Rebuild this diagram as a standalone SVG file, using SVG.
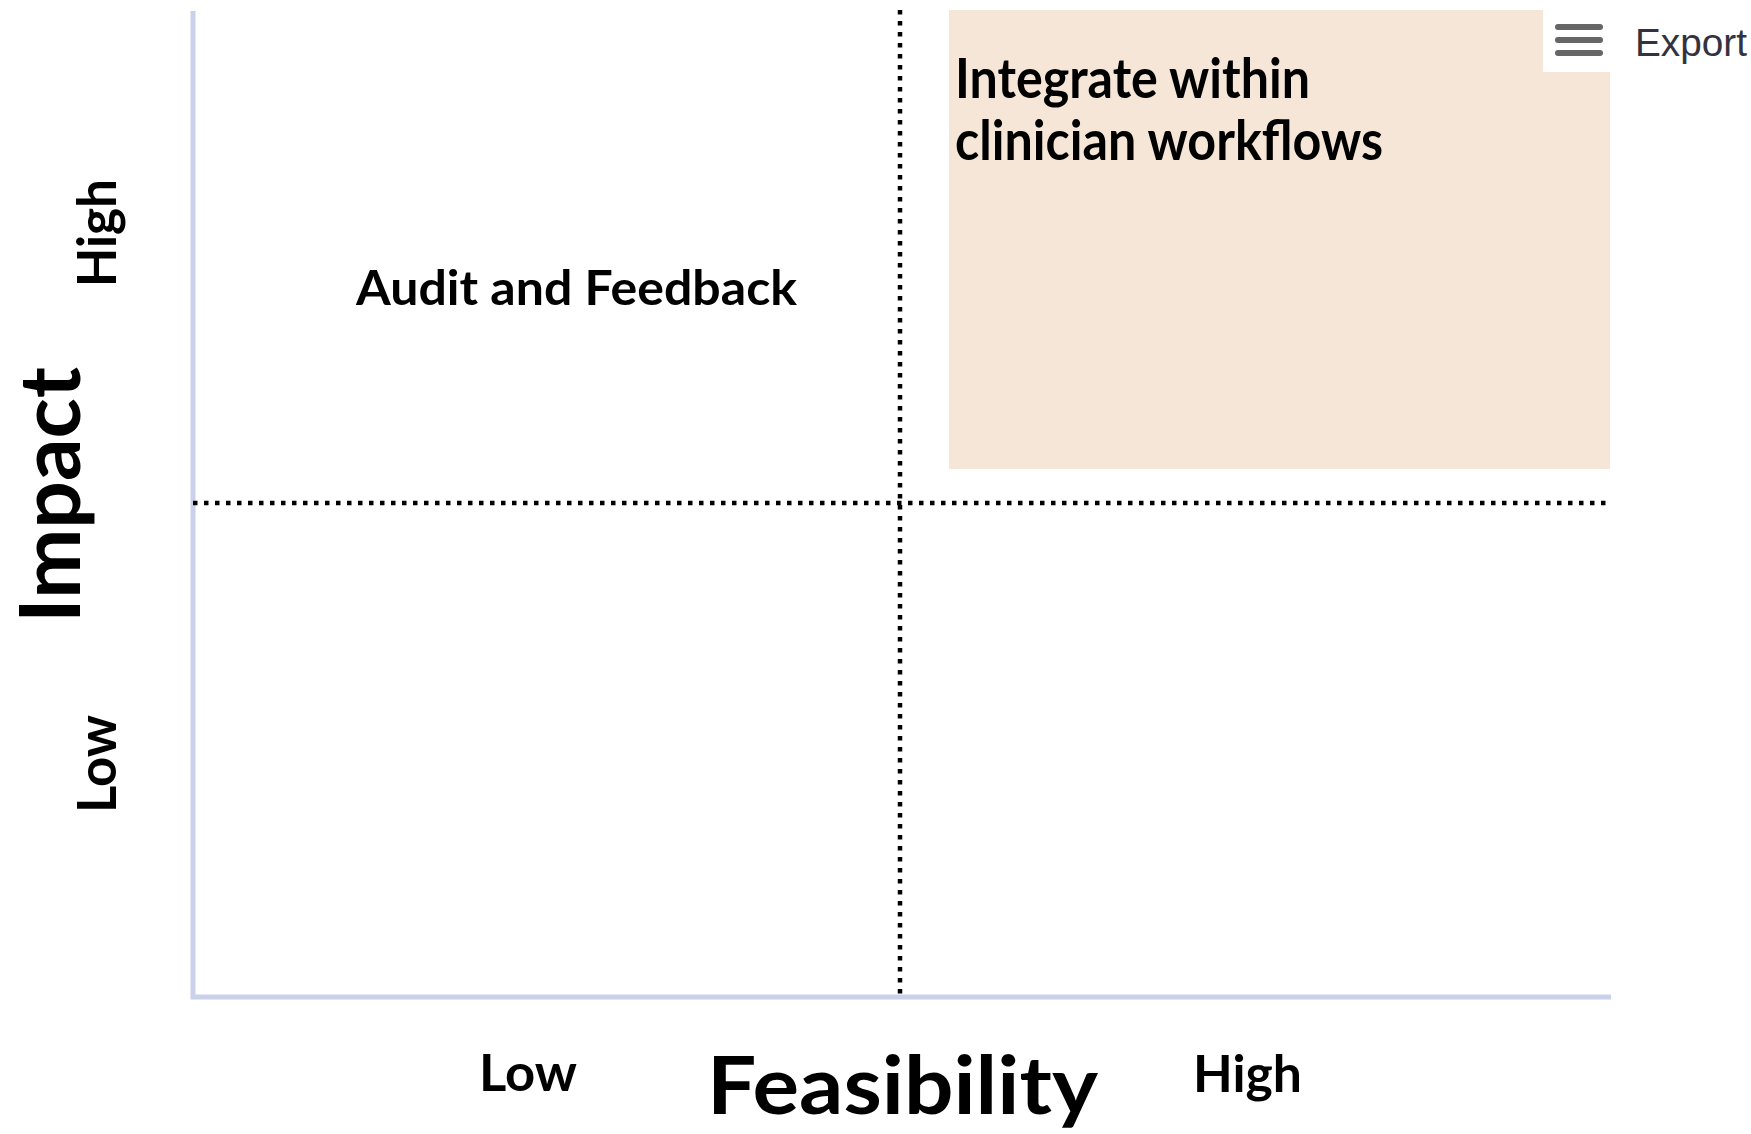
<svg xmlns="http://www.w3.org/2000/svg" width="1751" height="1134" viewBox="0 0 1751 1134">
<style>
.lbl{font-family:Lato,"Open Sans","Liberation Sans",sans-serif;font-weight:bold;fill:#000}
.axis{stroke:#cbd1ea;stroke-width:5;fill:none}
.dot{stroke:#000;stroke-width:4.5;stroke-dasharray:4.5 6.5;fill:none}
.menu{stroke:#666;stroke-width:6;stroke-linecap:round}
</style>
<rect width="1751" height="1134" fill="#fff"/>
<g id="quadrant-high-high">
<rect x="949" y="10" width="661" height="459" fill="#f5e6d7"/>
<text class="lbl" font-size="55" x="955" y="98" textLength="355" lengthAdjust="spacingAndGlyphs">Integrate within</text>
<text class="lbl" font-size="55" x="955" y="160" textLength="428" lengthAdjust="spacingAndGlyphs">clinician workflows</text>
</g>
<g id="connectors">
<path class="axis" d="M193 11 V997 H1611"/>
<line class="dot" x1="900" y1="10" x2="900" y2="995"/>
<line class="dot" x1="193" y1="503" x2="1611" y2="503"/>
</g>
<g id="audit-feedback">
<text class="lbl" font-size="48" x="356" y="305" textLength="441" lengthAdjust="spacingAndGlyphs">Audit and Feedback</text>
</g>
<g id="y-axis-labels">
<text class="lbl" font-size="84" transform="translate(80 623) rotate(-90)" textLength="256" lengthAdjust="spacingAndGlyphs">Impact</text>
<text class="lbl" font-size="54" transform="translate(116 287) rotate(-90)" textLength="108" lengthAdjust="spacingAndGlyphs">High</text>
<text class="lbl" font-size="54" transform="translate(116 813) rotate(-90)" textLength="98" lengthAdjust="spacingAndGlyphs">Low</text>
</g>
<g id="x-axis-labels">
<text class="lbl" font-size="52" x="479" y="1091" textLength="98" lengthAdjust="spacingAndGlyphs">Low</text>
<text class="lbl" font-size="80" x="707" y="1114" textLength="391" lengthAdjust="spacingAndGlyphs">Feasibility</text>
<text class="lbl" font-size="52" x="1193" y="1092" textLength="109" lengthAdjust="spacingAndGlyphs">High</text>
</g>
<g id="export-menu">
<rect x="1543" y="10" width="67" height="62" fill="#fff"/>
<line class="menu" x1="1558" y1="27" x2="1600" y2="27"/>
<line class="menu" x1="1558" y1="40" x2="1600" y2="40"/>
<line class="menu" x1="1558" y1="53" x2="1600" y2="53"/>
<text x="1635" y="56" font-family="'Liberation Sans',Arial,sans-serif" font-size="38" fill="#333340" textLength="112" lengthAdjust="spacingAndGlyphs">Export</text>
</g>
</svg>
